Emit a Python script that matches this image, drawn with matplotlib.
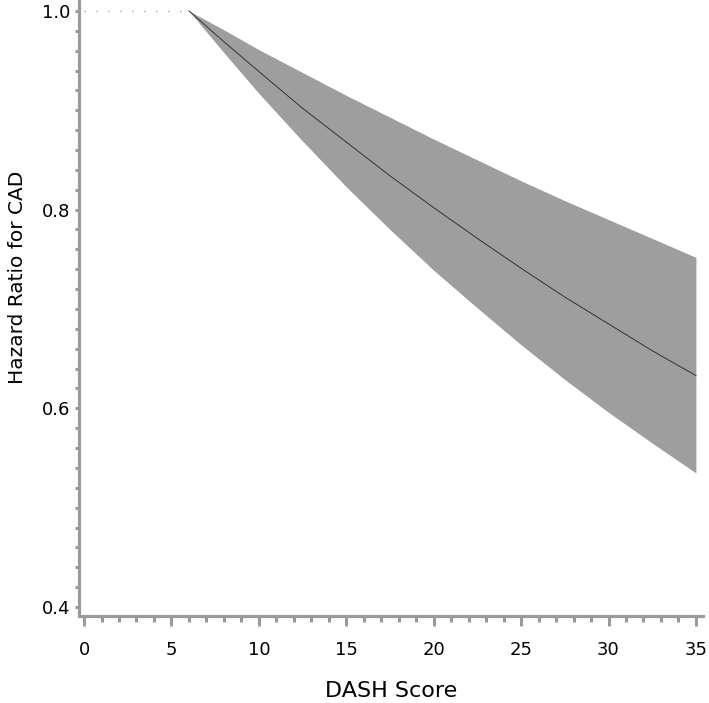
import matplotlib
matplotlib.use("Agg")
import matplotlib.pyplot as plt
import numpy as np

# values
dash_score = [6, 8, 10, 12.5, 15, 17.5, 20, 22.5, 25, 27.5, 30, 32.5, 35]
hazard_ratio = [1.0, 0.969, 0.939, 0.902, 0.868, 0.834, 0.802, 0.771, 0.741, 0.712, 0.685, 0.658, 0.633]
upper_ci = [1.0, 0.981, 0.961, 0.938, 0.915, 0.893, 0.871, 0.850, 0.829, 0.809, 0.790, 0.771, 0.752]
lower_ci = [1.0, 0.958, 0.917, 0.869, 0.823, 0.780, 0.739, 0.701, 0.664, 0.629, 0.596, 0.565, 0.535]
ref_x = [0, 6]
ref_y = [1.0, 1.0]

plt.rcParams['font.family'] = ['DejaVu Sans']

fig = plt.figure(figsize = (7.09, 7.03), dpi = 100)
ax = fig.add_axes([0.1114, 0.1238, 0.88, 0.8762])

ax.fill_between(dash_score, lower_ci, upper_ci, color = '#9e9e9e', linewidth = 0)
ax.plot(dash_score, hazard_ratio, color = '#333333', linewidth = 0.7)
ax.plot(ref_x, ref_y, color = '#a0a0a0', linewidth = 1.0, linestyle = (0, (1, 7.6)))

ax.set_xlim(-0.29, 35.4)
ax.set_ylim(0.391, 1.011)

axis_grey = '#9a9a9a'
for side in ['top', 'right']:
    ax.spines[side].set_visible(False)
for side in ['left', 'bottom']:
    ax.spines[side].set_color(axis_grey)
    ax.spines[side].set_linewidth(2.3)

ax.set_xticks(np.arange(0, 36, 5))
ax.set_xticks(np.arange(0, 36, 1), minor = True)
ax.set_yticks([0.4, 0.6, 0.8, 1.0])
ax.set_yticks(np.arange(0.4, 1.001, 0.02), minor = True)
ax.set_yticklabels(['0.4', '0.6', '0.8', '1.0'])

ax.tick_params(axis = 'x', which = 'major', length = 7, width = 2.2, color = axis_grey, labelsize = 13, pad = 11)
ax.tick_params(axis = 'x', which = 'minor', length = 4.5, width = 2.2, color = axis_grey)
ax.tick_params(axis = 'y', which = 'both', length = 3, width = 2.2, color = axis_grey, labelsize = 13, pad = 3)

ax.set_xlabel('DASH Score', fontsize = 16, labelpad = 16)
ax.set_ylabel('Hazard Ratio for CAD', fontsize = 14.5, labelpad = 11)
ax.yaxis.label.set_y(0.549)

fig.savefig('out.png', dpi = 100)
